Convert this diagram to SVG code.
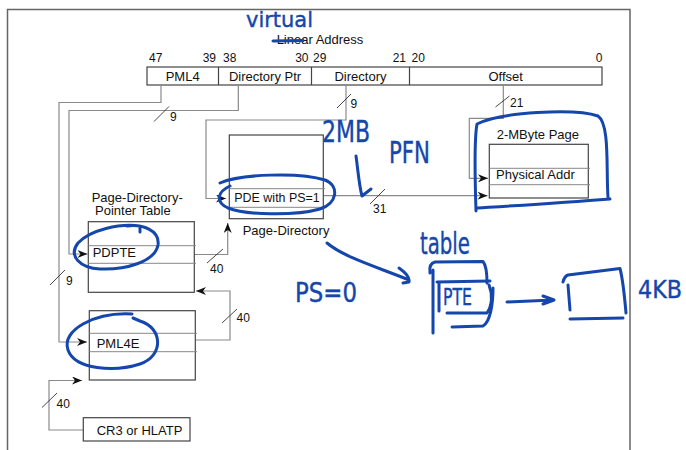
<svg xmlns="http://www.w3.org/2000/svg" width="686" height="450" viewBox="0 0 686 450">
<defs>
<style>
.frame{fill:none;stroke:#666;stroke-width:1.5}
.box{fill:#fff;stroke:#444;stroke-width:1.2}
.row{stroke:#888;stroke-width:1}
.conn{fill:none;stroke:#8a8a8a;stroke-width:1.2}
.slash{stroke:#333;stroke-width:0.9}
text{font-family:"Liberation Sans",Arial,sans-serif;fill:#111}
.t13{font-size:13px}
.t12{font-size:12px}
.ink{fill:none;stroke:#1546ab;stroke-width:3;stroke-linecap:round;stroke-linejoin:round}
.hand{font-family:"DejaVu Sans","Liberation Sans",sans-serif;fill:#1546ab;stroke:#1546ab;stroke-width:0.4}
</style>
<marker id="arr" markerUnits="userSpaceOnUse" markerWidth="11" markerHeight="8" refX="10" refY="4" orient="auto">
<path d="M0,0 L10,4 L0,8 L3,4 z" fill="#111"/>
</marker>
</defs>
<rect x="0" y="0" width="686" height="450" fill="#fff"/>
<path class="frame" d="M7.5,460 L7.5,9.5 L630,9.5 L630,460"/>

<g id="linear-address">
<text class="t13" x="320" y="44" text-anchor="middle">Linear Address</text>
<g class="t12">
<text x="149" y="61.5">47</text>
<text x="216" y="61.5" text-anchor="end">39</text>
<text x="223" y="61.5">38</text>
<text x="308.5" y="61.5" text-anchor="end">30</text>
<text x="313" y="61.5">29</text>
<text x="406" y="61.5" text-anchor="end">21</text>
<text x="411.5" y="61.5">20</text>
<text x="602.5" y="61.5" text-anchor="end">0</text>
</g>
<rect class="box" x="147" y="67" width="455" height="18"/>
<line class="box" x1="218.5" y1="67" x2="218.5" y2="85"/>
<line class="box" x1="311.5" y1="67" x2="311.5" y2="85"/>
<line class="box" x1="409.5" y1="67" x2="409.5" y2="85"/>
<text class="t13" x="182.7" y="81" text-anchor="middle">PML4</text>
<text class="t13" x="265" y="81" text-anchor="middle">Directory Ptr</text>
<text class="t13" x="360.5" y="81" text-anchor="middle">Directory</text>
<text class="t13" x="505.7" y="81" text-anchor="middle">Offset</text>
</g>

<g id="connectors">
<polyline class="conn" points="83,430 49,430 49,380.5 82,380.5" marker-end="url(#arr)"/>
<polyline class="conn" points="195.3,340 230,340 230,291 196,291" marker-end="url(#arr)"/>
<polyline class="conn" points="161,85 161,102.5 59,102.5 59,342 87,342" marker-end="url(#arr)"/>
<polyline class="conn" points="238.3,85 238.3,110.5 69,110.5 69,254 87.5,254" marker-end="url(#arr)"/>
<polyline class="conn" points="194.3,254.5 227.7,254.5 227.7,223" marker-end="url(#arr)"/>
<polyline class="conn" points="346,85 346,120 206,120 206,198.5 226,198.5" marker-end="url(#arr)"/>
<polyline class="conn" points="323.3,195.7 487.5,195.7" marker-end="url(#arr)"/>
<polyline class="conn" points="503.3,85 503.3,118.3 469.3,118.3 469.3,178.3 488,178.3" marker-end="url(#arr)"/>
<g class="slash">
<line x1="154" y1="121.5" x2="169" y2="106.5"/>
<line x1="337" y1="108" x2="351" y2="94"/>
<line x1="495.5" y1="107" x2="509.5" y2="96"/>
<line x1="50" y1="285" x2="65" y2="270"/>
<line x1="207" y1="263" x2="223" y2="249"/>
<line x1="370" y1="204" x2="385" y2="189"/>
<line x1="222" y1="323" x2="237" y2="309"/>
<line x1="42" y1="407.5" x2="57" y2="393"/>
</g>
<g class="t12">
<text x="170" y="121">9</text>
<text x="350.5" y="108">9</text>
<text x="510" y="107">21</text>
<text x="66" y="285">9</text>
<text x="210" y="273">40</text>
<text x="373" y="212.5">31</text>
<text x="236.5" y="322">40</text>
<text x="56.5" y="407.5">40</text>
</g>
</g>

<g id="pml4-table">
<rect class="box" x="89.3" y="310.7" width="106" height="69.3"/>
<line class="row" x1="89.3" y1="333.3" x2="197" y2="333.3"/>
<line class="row" x1="89.3" y1="351.7" x2="197" y2="351.7"/>
<text class="t13" x="96.7" y="347.5">PML4E</text>
</g>

<g id="pdpt">
<text class="t13" x="91.7" y="201.5">Page-Directory-</text>
<text class="t13" x="95" y="215">Pointer Table</text>
<rect class="box" x="88.3" y="221.7" width="106" height="70.6"/>
<line class="row" x1="88.3" y1="245.7" x2="196" y2="245.7"/>
<line class="row" x1="88.3" y1="263.3" x2="196" y2="263.3"/>
<text class="t13" x="92.7" y="257.3">PDPTE</text>
</g>

<g id="page-directory">
<rect class="box" x="229.3" y="135" width="94" height="83.7"/>
<line class="row" x1="229.3" y1="188.7" x2="325" y2="188.7"/>
<line class="row" x1="229.3" y1="207.3" x2="325" y2="207.3"/>
<text x="234.3" y="202.3" style="font-size:12px" textLength="85.5" lengthAdjust="spacingAndGlyphs">PDE with PS=1</text>
<text class="t13" x="242.7" y="235">Page-Directory</text>
</g>

<g id="page-2mb">
<text class="t13" x="496.7" y="139">2-MByte Page</text>
<rect class="box" x="489.3" y="144.3" width="99" height="53.7"/>
<line class="row" x1="489.3" y1="168.3" x2="590" y2="168.3"/>
<line class="row" x1="489.3" y1="184.7" x2="590" y2="184.7"/>
<text class="t13" x="496" y="179.3">Physical Addr</text>
</g>

<g id="cr3">
<rect class="box" x="83.3" y="417.7" width="106.7" height="23.3"/>
<text class="t13" x="96.7" y="435">CR3 or HLATP</text>
</g>

<g id="annotations">
<text class="hand" x="246" y="27" style="font-size:22px" textLength="67" lengthAdjust="spacingAndGlyphs">virtual</text>
<path class="ink" d="M273,41 L303,40.5"/>
<text class="hand" x="322" y="142" style="font-size:30px" textLength="48" lengthAdjust="spacingAndGlyphs">2MB</text>
<text class="hand" x="389" y="163" style="font-size:30px" textLength="41" lengthAdjust="spacingAndGlyphs">PFN</text>
<path class="ink" d="M356,156 C358,170 359,185 362,196 L371,189"/>
<path class="ink" d="M220,183 C240,174 300,172 325,180 C340,186 337,204 320,209 C295,216 245,215 228,208 C215,202 217,192 230,186"/>
<path class="ink" d="M140,232 L140,226 C120,223 90,230 78,243 C68,256 80,268 100,269 C125,270 155,262 158,245 C160,230 142,224 127,226"/>
<path class="ink" d="M133,318 L140,321 C163,328 164,356 140,364 C115,372 75,370 68,350 C61,330 95,312 132,314"/>
<path class="ink" d="M476,211 C475,180 474,140 477,124 C500,112 575,108 598,116 C610,124 606,170 608,197 M610,199 C560,203 510,206 478,208"/>
<path class="ink" d="M327,243 C345,258 380,268 409,280 M399,268 C406,273 410,278 409,282 L403,283"/>
<text class="hand" x="295" y="302" style="font-size:26px" textLength="62" lengthAdjust="spacingAndGlyphs">PS=0</text>
<text class="hand" x="420" y="254" style="font-size:30px" textLength="50" lengthAdjust="spacingAndGlyphs">table</text>
<path class="ink" d="M433,333 L433,270 M430,273 C429,266 431,263 435,262 L483,261.5 C486,265 487,275 487,283"/>
<path class="ink" d="M437,282 L490,281 M439,282 L439,311 M489,285 C493,295 492,306 487,313 L447,313"/>
<path class="ink" d="M452,327 L483,326 C490,322 493,305 493,288"/>
<text class="hand" x="443" y="305" style="font-size:23px" textLength="29" lengthAdjust="spacingAndGlyphs">PTE</text>
<path class="ink" d="M507,302 L553,300 M543,296 L554,300 L543,304"/>
<path class="ink" d="M563,282 C564,278 565,276 568,275 L620,268.5 C622,276 624,290 626,313 M623,318 L570,319 M568,285 L570,310"/>
<text class="hand" x="638" y="298" style="font-size:25px" textLength="44" lengthAdjust="spacingAndGlyphs">4KB</text>
</g>
</svg>
